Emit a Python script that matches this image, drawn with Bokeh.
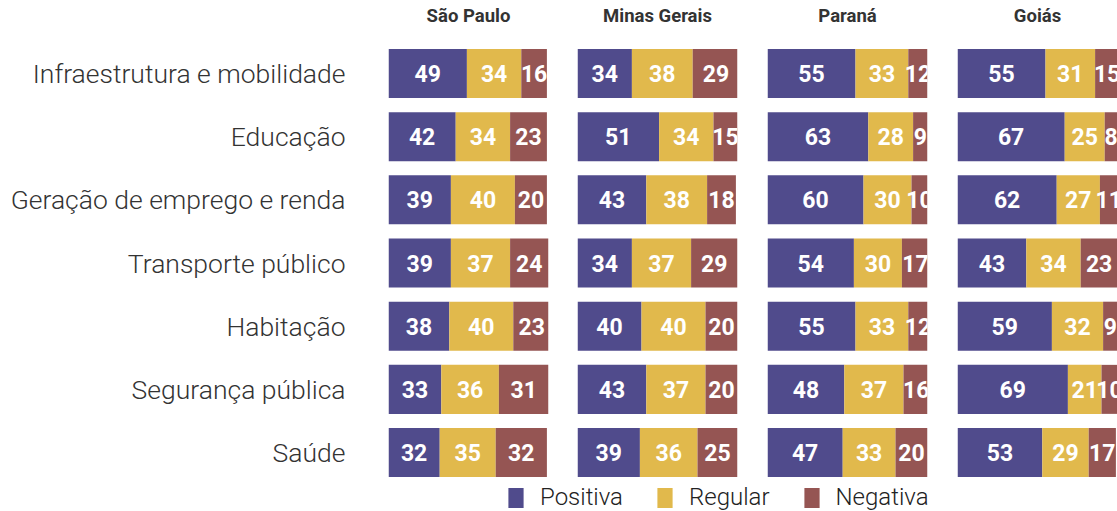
import numpy as np
from bokeh.plotting import figure
from bokeh.models import ColumnDataSource, Range1d, Legend, LegendItem
from bokeh.layouts import row, column
from bokeh.core.properties import value
from bokeh.embed import file_html
from bokeh.resources import INLINE

categories = ["Infraestrutura e mobilidade", "Educação", "Geração de emprego e renda",
              "Transporte público", "Habitação", "Segurança pública", "Saúde"]
states = ["São Paulo", "Minas Gerais", "Paraná", "Goiás"]
series = ["Positiva", "Regular", "Negativa"]
colors = ["#504B8C", "#E1B94C", "#955553"]

sp_pos = [49, 42, 39, 39, 38, 33, 32]
sp_reg = [34, 34, 40, 37, 40, 36, 35]
sp_neg = [16, 23, 20, 24, 23, 31, 32]

mg_pos = [34, 51, 43, 34, 40, 43, 39]
mg_reg = [38, 34, 38, 37, 40, 37, 36]
mg_neg = [29, 15, 18, 29, 20, 20, 25]

pr_pos = [55, 63, 60, 54, 55, 48, 47]
pr_reg = [33, 28, 30, 30, 33, 37, 33]
pr_neg = [12, 9, 10, 17, 12, 16, 20]

go_pos = [55, 67, 62, 43, 59, 69, 53]
go_reg = [31, 25, 27, 34, 32, 21, 29]
go_neg = [15, 8, 11, 23, 9, 10, 17]

data = [(sp_pos, sp_reg, sp_neg), (mg_pos, mg_reg, mg_neg),
        (pr_pos, pr_reg, pr_neg), (go_pos, go_reg, go_neg)]

FONT = value("Roboto")
LIGHT_STR = "'Roboto Light', Roboto"
LIGHT = value(LIGHT_STR)
H = 478
YR = (6.411, -1.156)
BAR_H = 0.776
PX_PER_UNIT = 1.6
FRAME_W = 160
panel_widths = [189, 190, 190, 160]

def base_fig(width, xr, border_right=0):
    p = figure(width=width, height=H, x_range=Range1d(*xr), y_range=Range1d(*YR),
               x_axis_location=None, y_axis_location=None, toolbar_location=None,
               output_backend="svg", min_border_left=0, min_border_right=border_right,
               min_border_top=0, min_border_bottom=0)
    p.grid.visible = False
    p.outline_line_color = None
    p.background_fill_color = None
    p.border_fill_color = None
    return p

# label column
ys = list(range(len(categories)))
lab = base_fig(388, (0, 388))
lab.text(x=[345] * len(categories), y=ys, text=categories, text_align="right",
         text_baseline="middle", text_font=LIGHT, text_font_size="26.5px",
         text_color="#333333")

panels = []
for k, (state, vals) in enumerate(zip(states, data)):
    width = panel_widths[k]
    fw = min(FRAME_W, width)
    p = base_fig(width, (0, fw / PX_PER_UNIT), width - fw)
    arr = np.array(vals, dtype=float)
    lefts = np.vstack([np.zeros(arr.shape[1]), np.cumsum(arr, axis=0)[:-1]])
    rights = lefts + arr
    for s in range(3):
        src = ColumnDataSource(dict(y=ys, left=lefts[s], right=rights[s],
                                    mid=(lefts[s] + rights[s]) / 2,
                                    lbl=[str(int(v)) for v in arr[s]]))
        p.hbar(y="y", left="left", right="right", height=BAR_H, source=src,
               fill_color=colors[s], line_color=None)
        p.text(x="mid", y="y", text="lbl", source=src, text_align="center",
               text_baseline="middle", text_color="white", text_font=FONT,
               text_font_style="bold", text_font_size="23px")
    p.text(x=[50], y=[-0.918], text=[state], text_align="center", text_baseline="middle",
           text_font=FONT, text_font_style="bold", text_font_size="18.5px",
           text_color="#333333")
    panels.append(p)

# legend strip
leg = figure(width=1117, height=33, x_range=Range1d(0, 1117), y_range=Range1d(0, 33),
             x_axis_location=None, y_axis_location=None, toolbar_location=None,
             output_backend="svg", min_border_left=0, min_border_right=0,
             min_border_top=0, min_border_bottom=0)
leg.grid.visible = False
leg.outline_line_color = None
items = []
for name, c in zip(series, colors):
    r = leg.rect(x=[np.nan], y=[np.nan], width=1, height=1, fill_color=c, line_color=None)
    items.append(LegendItem(label=name, renderers=[r]))
legend = Legend(items=items, orientation="horizontal", location=(506, 0),
                glyph_width=19, glyph_height=25, label_standoff=15, spacing=32,
                padding=0, margin=0, border_line_color=None, background_fill_alpha=0,
                label_text_font=LIGHT_STR, label_text_font_size="24px",
                label_text_color="#222222", label_height=25)
leg.add_layout(legend)

layout = column(row(lab, *panels), leg)
open("out.html", "w").write(file_html(layout, INLINE))
